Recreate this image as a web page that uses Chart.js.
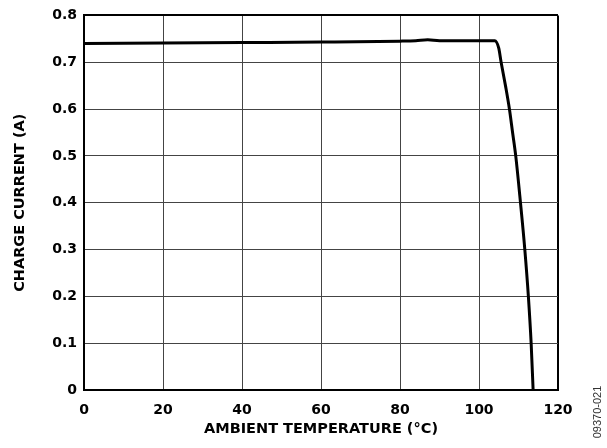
<!DOCTYPE html>
<html>
<head>
<meta charset="utf-8">
<script src="https://cdn.jsdelivr.net/npm/chart.js@4/dist/chart.umd.min.js"></script>
<style>
  html, body { margin: 0; padding: 0; background: #fff; }
  #wrap { width: 607px; height: 448px; }
</style>
</head>
<body>
<div id="wrap"><canvas id="grafica" width="607" height="448"></canvas></div>
<script>
// temperatura ambiente (°C) y corriente de carga (A)
const temperatura = [0, 20, 40, 60, 80, 84, 87, 90, 100, 104, 105.0, 105.6, 106.7, 107.7, 108.5, 109.3, 110.5, 111.6, 112.5, 113.2, 113.7];
const corriente   = [0.740, 0.741, 0.742, 0.743, 0.745, 0.746, 0.748, 0.746, 0.746, 0.746, 0.73, 0.70, 0.65, 0.60, 0.55, 0.50, 0.40, 0.30, 0.20, 0.10, 0];

const ticksX = ['0', '20', '40', '60', '80', '100', '120'];
const ticksY = ['0', '0.1', '0.2', '0.3', '0.4', '0.5', '0.6', '0.7', '0.8'];

const fuente = '"DejaVu Sans", Verdana, sans-serif';
const fuenteCodigo = '"Liberation Sans", Arial, sans-serif';

// código de figura en el margen derecho
const codigoFigura = {
    id: 'codigoFigura',
    afterDraw(chart) {
        const ctx = chart.ctx;
        ctx.save();
        ctx.translate(598, 412);
        ctx.rotate(-Math.PI / 2);
        ctx.font = '11px ' + fuenteCodigo;
        ctx.fillStyle = '#333';
        ctx.textAlign = 'center';
        ctx.textBaseline = 'middle';
        ctx.fillText('09370-021', 0, 0);
        ctx.restore();
    }
};

const puntos = temperatura.map((t, i) => ({ x: t, y: corriente[i] }));

new Chart(document.getElementById('grafica').getContext('2d'), {
    type: 'scatter',
    data: {
        datasets: [{
            data: puntos,
            showLine: true,
            borderColor: '#000',
            borderWidth: 3,
            pointRadius: 0,
            cubicInterpolationMode: 'monotone'
        }]
    },
    options: {
        responsive: false,
        animation: false,
        layout: { padding: { left: 8, right: 49, top: 12, bottom: 6 } },
        plugins: { legend: { display: false }, tooltip: { enabled: false } },
        scales: {
            x: {
                type: 'linear',
                min: 0, max: 120,
                afterFit: s => { s.height = 52; },
                border: { display: true, color: '#000', width: 2 },
                grid: {
                    drawTicks: false,
                    color: c => c.tick && c.tick.value === 120 ? '#000' : '#444',
                    lineWidth: c => c.tick && c.tick.value === 120 ? 2 : 1
                },
                ticks: {
                    stepSize: 20,
                    padding: 12,
                    maxRotation: 0,
                    color: '#000',
                    font: { family: fuente, size: 14, weight: 'bold' },
                    callback: (v, i) => ticksX[i]
                },
                title: {
                    display: true,
                    text: 'AMBIENT TEMPERATURE (°C)',
                    color: '#000',
                    font: { family: fuente, size: 14.5, weight: 'bold' }
                }
            },
            y: {
                min: 0, max: 0.8,
                afterFit: s => { s.width = 76; },
                border: { display: true, color: '#000', width: 2 },
                grid: {
                    drawTicks: false,
                    color: c => c.tick && Math.abs(c.tick.value - 0.8) < 1e-6 ? '#000' : '#444',
                    lineWidth: c => c.tick && Math.abs(c.tick.value - 0.8) < 1e-6 ? 2 : 1
                },
                ticks: {
                    stepSize: 0.1,
                    padding: 7,
                    color: '#000',
                    font: { family: fuente, size: 14, weight: 'bold' },
                    callback: (v, i) => ticksY[i]
                },
                title: {
                    display: true,
                    text: 'CHARGE CURRENT (A)',
                    color: '#000',
                    font: { family: fuente, size: 14.5, weight: 'bold' }
                }
            }
        }
    },
    plugins: [codigoFigura]
});
</script>
</body>
</html>
